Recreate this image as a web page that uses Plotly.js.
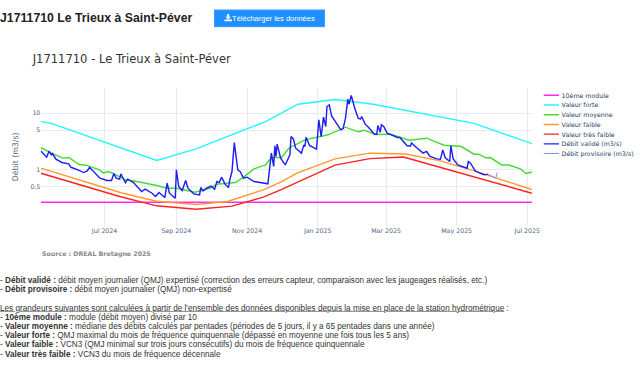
<!DOCTYPE html>
<html><head><meta charset="utf-8">
<script src="https://cdn.plot.ly/plotly-3.0.1.min.js"></script>
<style>
html,body{margin:0;padding:0;background:#fff;overflow:hidden;width:642px;height:375px}
#page{position:absolute;left:0;top:0;width:1256px;height:734px;transform:scale(0.511);transform-origin:0 0;font-family:"Liberation Sans",Arial,sans-serif;color:#333}
#h{position:absolute;left:0;top:19px;font-size:24px;font-weight:bold;line-height:32px;color:#222;white-space:nowrap}
#btn{position:absolute;left:419px;top:19px;width:217px;height:34px;background:#1e90ff;border:2px solid #3a9cff;box-sizing:border-box;color:#fff;font-size:14.7px;line-height:30px;text-align:center;white-space:nowrap}
#btn svg{vertical-align:-1px}
#chart{position:absolute;left:0;top:0;width:1256px;height:520px}
#notes{position:absolute;left:0;top:540px;font-size:16px;line-height:18px;white-space:nowrap;color:#333}
#notes div{height:18px}
</style></head><body>
<div id="page">
<div id="chart"></div>
<div id="h">J1711710 Le Trieux à Saint-Péver</div>
<div id="btn"><svg width="15" height="15" viewBox="0 0 8 8"><path d="M3 0h2v3h2L4 6 1 3h2zM0 6h8v2H0z" fill="#fff"/></svg>Télécharger les données</div>
<div id="notes">
<div>- <b>Débit validé :</b> débit moyen journalier (QMJ) expertisé (correction des erreurs capteur, comparaison avec les jaugeages réalisés, etc.)</div>
<div>- <b>Débit provisoire :</b> débit moyen journalier (QMJ) non-expertisé</div>
<div></div>
<div><u>Les grandeurs suivantes sont calculées à partir de l'ensemble des données disponibles depuis la mise en place de la station hydrométrique</u> :</div>
<div>- <b>10ème module :</b> module (débit moyen) divisé par 10</div>
<div>- <b>Valeur moyenne :</b> médiane des débits calculés par pentades (périodes de 5 jours, il y a 65 pentades dans une année)</div>
<div>- <b>Valeur forte :</b> QMJ maximal du mois de fréquence quinquennale (dépassé en moyenne une fois tous les 5 ans)</div>
<div>- <b>Valeur faible :</b> VCN3 (QMJ minimal sur trois jours consécutifs) du mois de fréquence quinquennale</div>
<div>- <b>Valeur très faible :</b> VCN3 du mois de fréquence décennale</div>
</div>
</div>
<script>
var moduleDates = ['2024-05-07','2025-07-05'];
var moduleVals = [0.269,0.269];

var forteDates = ['2024-05-07','2024-05-16','2024-08-15','2024-09-18','2024-11-17','2024-12-15','2025-01-16','2025-02-18','2025-05-16','2025-07-05'];
var forteVals = [7.1,6.6,1.46,2.35,7.1,14.4,17.4,14.4,6.6,2.9];

var moyDates = ['2024-05-07','2024-05-16','2024-05-26','2024-05-31','2024-06-09','2024-06-15','2024-06-26','2024-06-30','2024-07-04','2024-07-08','2024-07-19','2024-07-29','2024-08-15','2024-08-24','2024-09-01','2024-09-17','2024-09-30','2024-10-06','2024-10-22','2024-10-29','2024-11-07','2024-11-17','2024-11-22','2024-12-01','2024-12-07','2024-12-21','2025-01-10','2025-01-25','2025-02-05','2025-02-10','2025-02-20','2025-03-05','2025-03-21','2025-04-05','2025-04-20','2025-05-05','2025-05-16','2025-05-20','2025-05-26','2025-05-30','2025-06-09','2025-06-15','2025-06-25','2025-06-30','2025-07-05'];
var moyVals = [2.48,1.97,1.61,1.65,1.24,1.21,1.01,0.885,0.935,0.873,0.667,0.622,0.53,0.474,0.474,0.404,0.474,0.559,0.597,0.743,1.04,1.22,1.65,1.65,2.41,3.38,4.15,5.66,4.69,5.01,4.2,4.26,3.34,3.62,2.72,2.58,1.89,1.89,1.63,1.65,1.22,1.22,1.04,0.861,0.92];

var faibleDates = ['2024-05-07','2024-07-16','2024-08-15','2024-09-18','2024-10-15','2024-11-15','2024-11-30','2024-12-15','2025-01-16','2025-02-15','2025-03-18','2025-04-17','2025-05-17','2025-07-05'];
var faibleVals = [1.07,0.39,0.28,0.244,0.276,0.444,0.605,0.897,1.56,1.97,1.91,1.44,0.95,0.45];

var tfDates = ['2024-05-07','2024-07-14','2024-08-15','2024-09-18','2024-10-19','2024-11-15','2024-11-30','2025-01-16','2025-02-15','2025-03-16','2025-07-05'];
var tfVals = [0.873,0.339,0.232,0.202,0.229,0.33,0.444,1.21,1.58,1.69,0.387];

var valDates = ['2024-05-07','2024-05-12','2024-05-14','2024-05-16','2024-05-17','2024-05-20','2024-05-25','2024-05-31','2024-06-02','2024-06-08','2024-06-13','2024-06-16','2024-06-18','2024-06-23','2024-06-27','2024-07-03','2024-07-07','2024-07-09','2024-07-11','2024-07-14','2024-07-15','2024-07-19','2024-07-21','2024-07-26','2024-08-02','2024-08-05','2024-08-11','2024-08-14','2024-08-17','2024-08-22','2024-08-24','2024-08-26','2024-08-31','2024-09-01','2024-09-03','2024-09-06','2024-09-09','2024-09-11','2024-09-16','2024-09-21','2024-09-22','2024-09-24','2024-09-27','2024-10-01','2024-10-04','2024-10-06','2024-10-08','2024-10-10','2024-10-13','2024-10-16','2024-10-17','2024-10-19','2024-10-21','2024-10-24','2024-10-26','2024-10-29','2024-11-01','2024-11-07','2024-11-15','2024-11-19','2024-11-22','2024-11-24','2024-11-25','2024-11-26','2024-11-27','2024-11-30','2024-12-04','2024-12-08','2024-12-09','2024-12-11','2024-12-13','2024-12-18','2024-12-20','2024-12-21','2024-12-22','2024-12-25','2024-12-31','2025-01-02','2025-01-04','2025-01-06','2025-01-08','2025-01-09','2025-01-11','2025-01-13','2025-01-21','2025-01-23','2025-01-25','2025-01-27','2025-01-28','2025-01-30','2025-02-02','2025-02-05','2025-02-07','2025-02-08','2025-02-11','2025-02-14','2025-02-19','2025-02-21','2025-02-22','2025-02-24','2025-02-25','2025-02-27','2025-03-02','2025-03-11','2025-03-13','2025-03-19','2025-03-22','2025-03-23','2025-03-28','2025-04-02','2025-04-05','2025-04-08','2025-04-14','2025-04-17','2025-04-19','2025-04-21','2025-04-25','2025-04-26','2025-04-28','2025-05-02','2025-05-10','2025-05-11','2025-05-13','2025-05-17','2025-05-22','2025-05-25','2025-05-28'];
var valVals = [2.16,1.67,2.13,1.84,1.94,1.54,1.35,1.28,1.11,1.0,0.897,0.96,1.11,0.873,0.713,0.649,0.649,0.861,0.713,0.684,0.85,0.597,0.684,0.597,0.415,0.456,0.387,0.339,0.398,0.325,0.582,0.387,0.316,1.0,0.508,0.432,0.649,0.474,0.377,0.362,0.488,0.426,0.474,0.515,0.456,0.622,0.597,0.743,0.559,0.488,0.649,0.935,3.03,1.0,0.935,0.713,0.743,0.622,0.59,0.567,1.97,1.15,2.65,1.72,2.84,1.61,1.22,1.84,3.87,3.52,2.41,1.97,2.76,2.58,3.77,2.69,2.32,7.62,3.87,8.5,5.82,13.1,14.0,8.97,5.08,5.36,8.16,17.7,14.4,20.5,12.2,8.16,7.84,8.73,6.4,5.58,4.26,4.26,6.06,4.62,6.22,5.82,4.44,3.72,3.72,2.69,2.62,2.99,2.41,1.97,2.11,1.72,1.56,1.54,2.25,1.65,1.4,2.65,1.56,1.22,1.07,1.4,1.31,0.96,0.861,0.817,0.84];

var provDates = ['2025-05-28','2025-06-01','2025-06-03','2025-06-04','2025-06-05'];
var provVals = [0.84,0.762,0.723,0.74,0.897];

var yTicks = [0.5,1,5,10];
var yLabels = ['0.5','1','5','10'];
var xTicks = ['2024-07-01','2024-09-01','2024-11-01','2025-01-01','2025-03-01','2025-05-01','2025-07-01'];
var xLabels = ['Jul 2024','Sep 2024','Nov 2024','Jan 2025','Mar 2025','May 2025','Jul 2025'];

function tr(x,y,name,color,w){return {x:x,y:y,name:name,mode:'lines',type:'scatter',line:{color:color,width:w},hoverinfo:'x+y'};}
var traces=[
 tr(moduleDates,moduleVals,'10ème module','#ff2cf0',2.8),
 tr(forteDates,forteVals,'Valeur forte','#22f5ff',2.8),
 tr(moyDates,moyVals,'Valeur moyenne','#44dd2e',2.8),
 tr(faibleDates,faibleVals,'Valeur faible','#ff9a2e',2.8),
 tr(tfDates,tfVals,'Valeur très faible','#ff2222',2.8),
 tr(valDates,valVals,'Débit validé (m3/s)','#1f1ff5',2.8),
 tr(provDates,provVals,'Débit provisoire (m3/s)','#8a8af5',2)
];
var F='"DejaVu Sans",Verdana,sans-serif';
var layout={
 width:1256,height:520,autosize:false,
 paper_bgcolor:'rgba(0,0,0,0)',plot_bgcolor:'#fff',
 margin:{l:80.2,r:215,t:172,b:77.7,pad:0},
 font:{family:F,size:12.3,color:'#2a3f5f'},
 title:{text:'J1711710 - Le Trieux à Saint-Péver',x:64/1256,xanchor:'left',y:1-115.5/520,yanchor:'middle',font:{family:F,size:22.6,color:'#333333'}},
 xaxis:{type:'date',range:['2024-05-07','2025-07-05'],tickvals:xTicks,ticktext:xLabels,gridcolor:'#e6eaf2',gridwidth:1.5,showline:false,zeroline:false,tickfont:{size:12.3,color:'#506784'},ticks:'',automargin:false},
 yaxis:{type:'log',range:[-0.988,1.446],tickvals:yTicks,ticktext:yLabels,gridcolor:'#e6eaf2',gridwidth:1.5,zeroline:false,showline:false,tickfont:{size:12.3,color:'#506784'},ticks:'',
   title:{text:'Débit (m3/s)',font:{size:15.3,color:'#506784'},standoff:20},automargin:false},
 showlegend:true,
 legend:{xref:'container',yref:'container',x:1059/1256,xanchor:'left',y:1-172/520,yanchor:'top',font:{size:12.3,color:'#2a3f5f'},bgcolor:'rgba(0,0,0,0)'},
 annotations:[{text:'<b>Source : DREAL Bretagne 2025</b>',xref:'paper',yref:'paper',x:0,xanchor:'left',y:-0.2024,yanchor:'middle',showarrow:false,font:{family:F,size:12.3,color:'#888888'}}]
};
Plotly.newPlot('chart',traces,layout,{displayModeBar:false,responsive:false});
</script>
</body></html>
